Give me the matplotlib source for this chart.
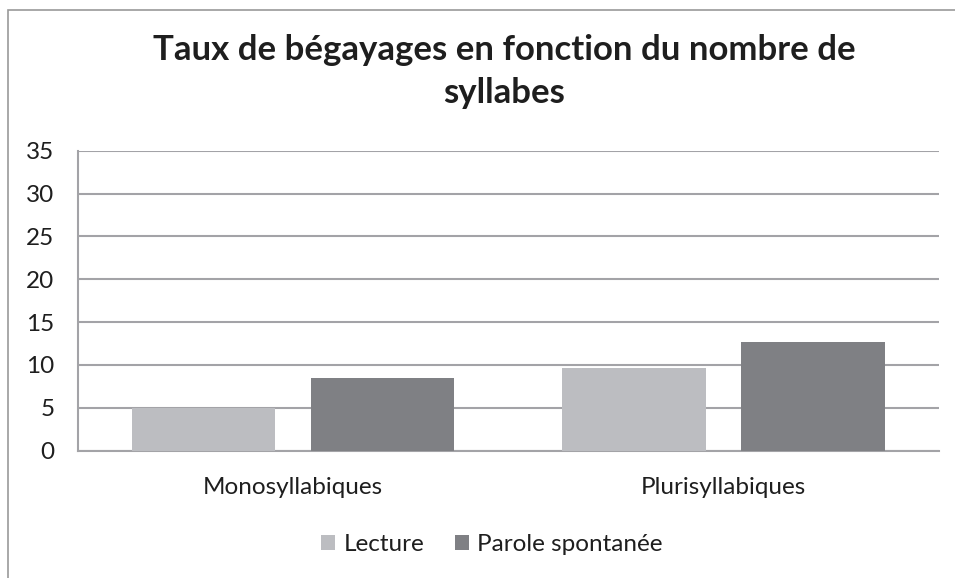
import matplotlib
matplotlib.use("Agg")
import matplotlib.pyplot as plt
import numpy as np
from matplotlib.patches import Rectangle

categories = ["Monosyllabiques", "Plurisyllabiques"]
series_names = ["Lecture", "Parole spontanée"]
lecture = [5.0, 9.7]
parole = [8.5, 12.7]
yticks = [0, 5, 10, 15, 20, 25, 30, 35]
title = "Taux de bégayages en fonction du nombre de\nsyllabes"

colors = ["#bcbdc1", "#7f8084"]
grid_color = "#a3a3a7"
text_color = "#1e1e1e"

plt.rcParams["font.family"] = ["Lato", "DejaVu Sans"]

fig = plt.figure(figsize=(9.55, 5.78), dpi=100)
ax = fig.add_axes([0.0817, 0.2202, 0.9013, 0.5191])

x = np.arange(len(categories))
width = 1 / 3
offset = 0.208
ax.bar(x - offset, lecture, width, color=colors[0], label=series_names[0], zorder=3)
ax.bar(x + offset, parole, width, color=colors[1], label=series_names[1], zorder=3)

ax.set_xlim(-0.5, len(categories) - 0.5)
ax.set_ylim(0, 35)
ax.set_yticks(yticks)
ax.set_yticklabels([str(t) for t in yticks])
ax.set_xticks(x)
ax.set_xticklabels(categories)
ax.yaxis.grid(True, color=grid_color, linewidth=1.5, zorder=0)
ax.set_axisbelow(True)

for side in ["top", "right"]:
    ax.spines[side].set_visible(False)
ax.spines["left"].set_color(grid_color)
ax.spines["left"].set_linewidth(1.5)
ax.spines["bottom"].set_color(grid_color)
ax.spines["bottom"].set_linewidth(1.5)

ax.tick_params(axis="y", length=0, pad=17, labelsize=17.5, labelcolor=text_color)
ax.tick_params(axis="x", length=0, pad=19, labelsize=17.5, labelcolor=text_color)

fig.text(504 / 955, 1 - 71.5 / 578, title, ha="center", va="center", fontsize=25,
         fontweight="bold", color=text_color, linespacing=1.42)

ax.legend(loc="upper center", bbox_to_anchor=(0.481, -0.205), ncol=2, frameon=False,
          fontsize=17.5, handlelength=0.58, handleheight=0.58, handletextpad=0.33,
          columnspacing=1.28, labelcolor=text_color)

# chart-area frame
fig.add_artist(Rectangle((8 / 955, -0.05), 1.2, 1.05 - 10 / 578, transform=fig.transFigure,
                         fill=False, edgecolor="#9a9a9a", linewidth=1.2))

fig.savefig("out.png", dpi=100, facecolor="white")
